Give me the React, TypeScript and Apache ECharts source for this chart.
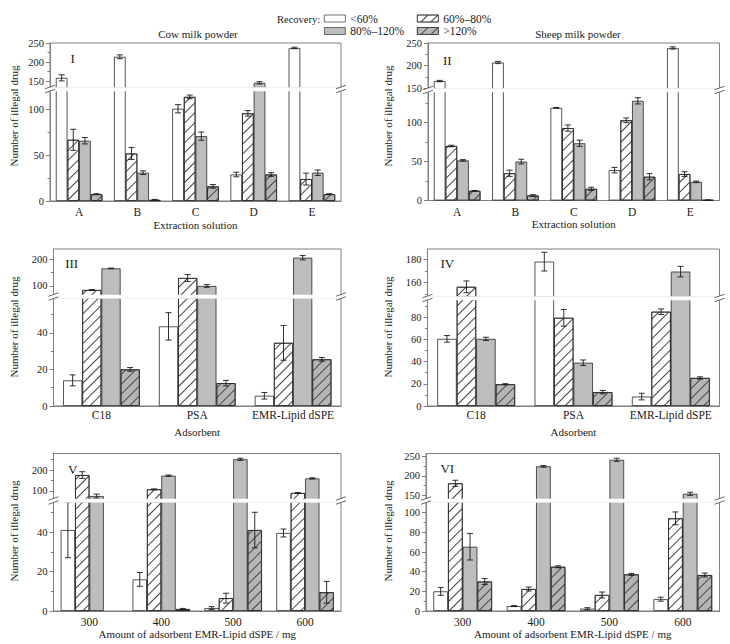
import React, { useEffect, useRef } from 'react';
import * as echarts from 'echarts';

const FONT = "'Times New Roman', 'Liberation Serif', serif";
const TEXT = '#1a1a1a';
const AXIS = '#808080';
const SERIES_NAMES = ['<60%', '60%–80%', '80%–120%', '>120%'];

// categories
const extractionCats = ['A', 'B', 'C', 'D', 'E'];
const adsorbentCats = ['C18', 'PSA', 'EMR-Lipid dSPE'];
const amountCats = ['300', '400', '500', '600'];

// Panel I – cow milk powder, extraction solution
const cowExtLt60 = [159, 214, 101, 29, 237];
const cowExtLt60Err = [8, 5, 4.5, 2.5, 2];
const cowExt6080 = [67, 52, 114, 96, 24];
const cowExt6080Err = [11.5, 6.5, 2, 3, 6.5];
const cowExt80120 = [66, 31, 71, 146, 31];
const cowExt80120Err = [3.5, 2, 4.5, 3, 3];
const cowExtGt120 = [7.5, 1.2, 16, 29, 7.5];
const cowExtGt120Err = [0.5, 0.5, 2, 2, 0.5];

// Panel II – sheep milk powder, extraction solution
const sheepExtLt60 = [166, 207, 119, 39, 239];
const sheepExtLt60Err = [1.5, 2.5, 0.5, 3.5, 2.5];
const sheepExt6080 = [70, 35, 93, 103, 34];
const sheepExt6080Err = [1, 4, 4, 3, 3];
const sheepExt80120 = [51.5, 50, 73.5, 128, 24];
const sheepExt80120Err = [1, 3, 4, 4, 1];
const sheepExtGt120 = [12.4, 6.4, 15, 30.5, 0.5];
const sheepExtGt120Err = [0.5, 1, 2, 4, 0.2];

// Panel III – cow milk powder, adsorbent
const cowAdsLt60 = [14, 43.5, 5.6];
const cowAdsLt60Err = [3, 7.5, 1.8];
const cowAds6080 = [85, 130, 34.5];
const cowAds6080Err = [1.5, 13, 9.5];
const cowAds80120 = [166, 100, 206];
const cowAds80120Err = [1, 5, 8];
const cowAdsGt120 = [20, 12.5, 25.5];
const cowAdsGt120Err = [1, 1.5, 1];

// Panel IV – sheep milk powder, adsorbent
const sheepAdsLt60 = [60.5, 178, 8.5];
const sheepAdsLt60Err = [3, 8, 3];
const sheepAds6080 = [156.5, 79.5, 85];
const sheepAds6080Err = [5, 7.5, 2.5];
const sheepAds80120 = [60.5, 39, 169.5];
const sheepAds80120Err = [1.5, 2.5, 4.5];
const sheepAdsGt120 = [19.6, 12.5, 25.3];
const sheepAdsGt120Err = [0.5, 1.5, 1];

// Panel V – cow milk powder, amount of adsorbent
const cowAmtLt60 = [41, 16, 1.5, 39.5];
const cowAmtLt60Err = [14, 3.5, 0.7, 2];
const cowAmt6080 = [176, 108, 6.5, 90.5];
const cowAmt6080Err = [16, 2, 2.5, 2];
const cowAmt80120 = [76, 173, 251, 160];
const cowAmt80120Err = [9, 3, 5, 3];
const cowAmtGt120 = [0, 1, 41, 9.5];
const cowAmtGt120Err = [0, 0.3, 9, 5.5];

// Panel VI – sheep milk powder, amount of adsorbent
const sheepAmtLt60 = [20, 5, 2.4, 12];
const sheepAmtLt60Err = [4, 0.5, 1, 2];
const sheepAmt6080 = [181, 22.4, 16.3, 94.3];
const sheepAmt6080Err = [8, 2, 3, 6.5];
const sheepAmt80120 = [65.4, 225, 242, 154];
const sheepAmt80120Err = [13.5, 2, 4, 4];
const sheepAmtGt120 = [30, 45, 37.3, 36.6];
const sheepAmtGt120Err = [3, 1, 1, 2];

// axis tick values
const ticksI = { top: [150, 200, 250], topMinor: [175, 225], bottom: [0, 50, 100], bottomMinor: [25, 75] };
const ticksII = { top: [150, 200, 250], topMinor: [175, 225], bottom: [0, 50, 100], bottomMinor: [25, 75, 125] };
const ticksIII = { top: [100, 200], topMinor: [150], bottom: [0, 20, 40], bottomMinor: [10, 30, 50] };
const ticksIV = { top: [160, 180], topMinor: [150, 170], bottom: [0, 20, 40, 60, 80], bottomMinor: [10, 30, 50, 70, 90] };
const ticksV = { top: [100, 200], topMinor: [150, 250], bottom: [0, 20, 40], bottomMinor: [10, 30, 50] };
const ticksVI = { top: [150, 200, 250], topMinor: [175, 225], bottom: [0, 20, 40, 60, 80, 100], bottomMinor: [10, 30, 50, 70, 90] };

const CAT_GAP = 0.2;
const TICK_FS = 10.5;
const NAME_FS = 11;

interface Panel {
  cats: string[];
  values: number[][];
  errs: number[][];
  ticks: { top: number[]; topMinor: number[]; bottom: number[]; bottomMinor: number[] };
  left: number; right: number; top: number; bottom: number; tgb: number; bgt: number;
  topRange: [number, number]; bottomRange: [number, number];
  xName: string; xNameGap: number; labelMargin: number;
  roman: string; romanX: number; romanY: number;
  yNameX: number; yNameY: number;
  title?: string; titleX?: number; titleY?: number;
}

const panels: Panel[] = [
  {
    cats: extractionCats,
    values: [cowExtLt60, cowExt6080, cowExt80120, cowExtGt120],
    errs: [cowExtLt60Err, cowExt6080Err, cowExt80120Err, cowExtGt120Err],
    ticks: ticksI,
    left: 50, right: 341, top: 43, bottom: 201, tgb: 88, bgt: 90.5,
    topRange: [132.5, 250], bottomRange: [0, 121],
    xName: 'Extraction solution', xNameGap: 18, labelMargin: 5,
    roman: 'I', romanX: 72.7, romanY: 58.3, yNameX: 14, yNameY: 116,
    title: 'Cow milk powder', titleX: 198, titleY: 34,
  },
  {
    cats: extractionCats,
    values: [sheepExtLt60, sheepExt6080, sheepExt80120, sheepExtGt120],
    errs: [sheepExtLt60Err, sheepExt6080Err, sheepExt80120Err, sheepExtGt120Err],
    ticks: ticksII,
    left: 428, right: 719.5, top: 43, bottom: 200.5, tgb: 89, bgt: 91.5,
    topRange: [148.5, 250], bottomRange: [0, 140],
    xName: 'Extraction solution', xNameGap: 18, labelMargin: 5,
    roman: 'II', romanX: 447.3, romanY: 60, yNameX: 388, yNameY: 116,
    title: 'Sheep milk powder', titleX: 578, titleY: 34,
  },
  {
    cats: adsorbentCats,
    values: [cowAdsLt60, cowAds6080, cowAds80120, cowAdsGt120],
    errs: [cowAdsLt60Err, cowAds6080Err, cowAds80120Err, cowAdsGt120Err],
    ticks: ticksIII,
    left: 53.5, right: 341, top: 249, bottom: 406, tgb: 295.5, bgt: 298,
    topRange: [64.4, 238.6], bottomRange: [0, 59],
    xName: 'Adsorbent', xNameGap: 20, labelMargin: 3,
    roman: 'III', romanX: 71.7, romanY: 263.3, yNameX: 14, yNameY: 327,
  },
  {
    cats: adsorbentCats,
    values: [sheepAdsLt60, sheepAds6080, sheepAds80120, sheepAdsGt120],
    errs: [sheepAdsLt60Err, sheepAds6080Err, sheepAds80120Err, sheepAdsGt120Err],
    ticks: ticksIV,
    left: 427.5, right: 719.5, top: 249, bottom: 406, tgb: 297, bgt: 299.5,
    topRange: [147.8, 188.8], bottomRange: [0, 96],
    xName: 'Adsorbent', xNameGap: 20, labelMargin: 3,
    roman: 'IV', romanX: 447.3, romanY: 263.3, yNameX: 388, yNameY: 327,
  },
  {
    cats: amountCats,
    values: [cowAmtLt60, cowAmt6080, cowAmt80120, cowAmtGt120],
    errs: [cowAmtLt60Err, cowAmt6080Err, cowAmt80120Err, cowAmtGt120Err],
    ticks: ticksV,
    left: 53.5, right: 341, top: 453.5, bottom: 611, tgb: 499.5, bgt: 502,
    topRange: [59.5, 278.6], bottomRange: [0, 55.2],
    xName: 'Amount of adsorbent EMR-Lipid dSPE / mg', xNameGap: 16, labelMargin: 4.5,
    roman: 'V', romanX: 72.7, romanY: 469, yNameX: 14, yNameY: 531,
  },
  {
    cats: amountCats,
    values: [sheepAmtLt60, sheepAmt6080, sheepAmt80120, sheepAmtGt120],
    errs: [sheepAmtLt60Err, sheepAmt6080Err, sheepAmt80120Err, sheepAmtGt120Err],
    ticks: ticksVI,
    left: 426, right: 719.5, top: 453.5, bottom: 611, tgb: 499.5, bgt: 502,
    topRange: [139.1, 258.3], bottomRange: [0, 110.9],
    xName: 'Amount of adsorbent EMR-Lipid dSPE / mg', xNameGap: 16, labelMargin: 4.5,
    roman: 'VI', romanX: 447.3, romanY: 468.3, yNameX: 388, yNameY: 531,
  },
];

const hatch = (color: string) => ({
  symbol: 'rect',
  symbolSize: 1,
  color,
  dashArrayX: [1, 0],
  dashArrayY: [0.8, 5.6],
  rotation: -Math.PI / 4,
});

const seriesStyles = [
  { color: '#ffffff', borderColor: '#2a2a2a', borderWidth: 0.8 },
  { color: '#ffffff', borderColor: '#2a2a2a', borderWidth: 0.8, decal: hatch('#444444') },
  { color: '#bdbdbd', borderColor: '#2a2a2a', borderWidth: 0.8 },
  { color: '#b5b5b5', borderColor: '#2a2a2a', borderWidth: 0.8, decal: hatch('#444444') },
];

const errRender = (params: any, api: any) => {
  const ci = api.value(0) as number;
  const si = api.value(1) as number;
  const v = api.value(2) as number;
  const e = api.value(3) as number;
  const band = api.size([1, 0])[0] as number;
  const bw = (band * (1 - CAT_GAP)) / 4;
  const base = api.coord([ci, v]);
  const cx = base[0] - 2 * bw + (si + 0.5) * bw;
  const yHi = api.coord([ci, v + e])[1];
  const yLo = api.coord([ci, Math.max(0, v - e)])[1];
  const hw = 3;
  const style = { stroke: '#1a1a1a', lineWidth: 0.9 };
  return {
    type: 'group',
    children: [
      { type: 'line', shape: { x1: cx, y1: yHi, x2: cx, y2: yLo }, style },
      { type: 'line', shape: { x1: cx - hw, y1: yHi, x2: cx + hw, y2: yHi }, style },
      { type: 'line', shape: { x1: cx - hw, y1: yLo, x2: cx + hw, y2: yLo }, style },
    ],
  };
};

function buildOption() {
  const grid: any[] = [];
  const xAxis: any[] = [];
  const yAxis: any[] = [];
  const series: any[] = [];
  const graphic: any[] = [];

  panels.forEach((p) => {
    const width = p.right - p.left;
    const segs = [
      { key: 'top', top: p.top, height: p.tgb - p.top, range: p.topRange, major: p.ticks.top, minor: p.ticks.topMinor },
      { key: 'bottom', top: p.bgt, height: p.bottom - p.bgt, range: p.bottomRange, major: p.ticks.bottom, minor: p.ticks.bottomMinor },
    ];
    segs.forEach((s) => {
      const gi = grid.length;
      grid.push({
        left: p.left, top: s.top, width, height: s.height,
        show: true, borderColor: AXIS, borderWidth: 1, backgroundColor: 'transparent',
        containLabel: false, outerBoundsMode: 'none',
      });
      const isBottom = s.key === 'bottom';
      const xi = xAxis.length;
      xAxis.push({
        type: 'category', gridIndex: gi, data: p.cats, boundaryGap: true,
        axisLine: { show: isBottom, lineStyle: { color: AXIS, width: 1 } },
        axisTick: { show: false },
        axisLabel: isBottom
          ? { show: true, margin: p.labelMargin, color: TEXT, fontFamily: FONT, fontSize: 11.5, interval: 0 }
          : { show: false },
        splitLine: { show: false },
        name: isBottom ? p.xName : '',
        nameLocation: 'middle', nameGap: p.xNameGap,
        nameTextStyle: { color: TEXT, fontFamily: FONT, fontSize: NAME_FS },
      });
      const yi = yAxis.length;
      yAxis.push({
        type: 'value', gridIndex: gi, min: s.range[0], max: s.range[1], position: 'left',
        axisLine: { show: true, lineStyle: { color: AXIS, width: 1 } },
        axisTick: { show: true, length: 4, inside: false, customValues: s.major, lineStyle: { color: AXIS } },
        axisLabel: { show: true, customValues: s.major, margin: 6, color: TEXT, fontFamily: FONT, fontSize: TICK_FS },
        splitLine: { show: false },
      });
      yAxis.push({
        type: 'value', gridIndex: gi, min: s.range[0], max: s.range[1], position: 'left',
        axisLine: { show: false },
        axisTick: { show: true, length: 2.5, inside: false, customValues: s.minor, lineStyle: { color: AXIS } },
        axisLabel: { show: false },
        splitLine: { show: false },
      });
      p.values.forEach((vals, si) => {
        series.push({
          type: 'bar', name: SERIES_NAMES[si], xAxisIndex: xi, yAxisIndex: yi,
          barGap: '0%', barCategoryGap: `${CAT_GAP * 100}%`, clip: true,
          itemStyle: seriesStyles[si],
          emphasis: { disabled: true },
          data: vals.map((v) => (v <= 0 ? '-' : isBottom ? v : v > s.range[0] ? v : '-')),
        });
      });
      const errData: number[][] = [];
      p.values.forEach((vals, si) => {
        vals.forEach((v, ci) => {
          const inTop = v > p.bottomRange[1];
          if ((isBottom && !inTop) || (!isBottom && inTop)) {
            const e = p.errs[si][ci];
            if (e > 0) errData.push([ci, si, v, e]);
          }
        });
      });
      series.push({
        type: 'custom', xAxisIndex: xi, yAxisIndex: yi, z: 5, silent: true,
        renderItem: errRender, encode: { x: 0, y: 2 }, data: errData,
      });
    });

    // white gap of the broken axis
    graphic.push({
      type: 'rect', z: 100, silent: true,
      shape: { x: p.left - 1.5, y: p.tgb - 0.8, width: width + 3, height: p.bgt - p.tgb + 1.6 },
      style: { fill: '#ffffff' },
    });
    const yc = (p.tgb + p.bgt) / 2;
    [p.left, p.right].forEach((x) => {
      graphic.push({ type: 'line', z: 101, silent: true, shape: { x1: x - 5, y1: yc - 0.5, x2: x + 5, y2: yc - 4 }, style: { stroke: '#666', lineWidth: 1 } });
      graphic.push({ type: 'line', z: 101, silent: true, shape: { x1: x - 5, y1: yc + 3.5, x2: x + 5, y2: yc }, style: { stroke: '#666', lineWidth: 1 } });
    });
    graphic.push({
      type: 'text', z: 102, x: p.romanX, y: p.romanY, silent: true,
      style: { text: p.roman, fill: TEXT, font: `13px ${FONT}`, textAlign: 'center', textVerticalAlign: 'middle', align: 'center', verticalAlign: 'middle' },
    });
    graphic.push({
      type: 'text', z: 102, x: p.yNameX, y: p.yNameY, rotation: Math.PI / 2, silent: true,
      style: { text: 'Number of illegal drug', fill: TEXT, font: `${NAME_FS}px ${FONT}`, textAlign: 'center', textVerticalAlign: 'middle', align: 'center', verticalAlign: 'middle' },
    });
    if (p.title) {
      graphic.push({
        type: 'text', z: 102, x: p.titleX, y: p.titleY, silent: true,
        style: { text: p.title, fill: TEXT, font: `${NAME_FS}px ${FONT}`, textAlign: 'center', textVerticalAlign: 'middle', align: 'center', verticalAlign: 'middle' },
      });
    }
  });

  graphic.push({
    type: 'text', z: 102, x: 277, y: 19, silent: true,
    style: { text: 'Recovery:', fill: TEXT, font: `10.5px ${FONT}`, textAlign: 'left', textVerticalAlign: 'middle', align: 'left', verticalAlign: 'middle' },
  });

  const legendPos = [
    { left: 324, top: 12.5 },
    { left: 417, top: 12.5 },
    { left: 324, top: 25 },
    { left: 417, top: 25 },
  ];
  const legend = SERIES_NAMES.map((n, i) => ({
    data: [n], left: legendPos[i].left, top: legendPos[i].top, padding: 0, itemGap: 0,
    itemWidth: 21, itemHeight: 7, icon: 'rect', selectedMode: false,
    itemStyle: { borderWidth: 0.7, borderColor: '#333333' },
    textStyle: { color: TEXT, fontFamily: FONT, fontSize: 11.5 },
  }));

  return {
    animation: false,
    backgroundColor: '#ffffff',
    textStyle: { fontFamily: FONT },
    grid, xAxis, yAxis, series, graphic, legend,
  };
}

export default function App() {
  const ref = useRef<HTMLDivElement>(null);
  useEffect(() => {
    if (!ref.current) return;
    const chart = echarts.init(ref.current, undefined, { renderer: 'svg' });
    chart.setOption(buildOption() as any);
    return () => chart.dispose();
  }, []);
  return <div ref={ref} style={{ position: 'absolute', left: 0, top: 0, width: 730, height: 644 }} />;
}
